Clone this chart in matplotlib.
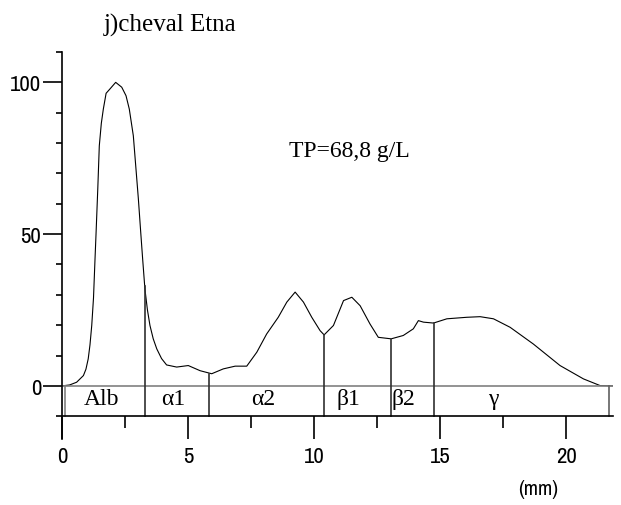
import matplotlib
matplotlib.use("Agg")
import matplotlib.pyplot as plt
import numpy as np

# curve (mm, relative intensity)
x_mm = [0.0, 0.3, 0.58, 0.85, 0.95, 1.04, 1.11, 1.18, 1.25, 1.31, 1.35, 1.42, 1.48, 1.56, 1.64,
        1.75, 1.90, 2.13, 2.37, 2.54, 2.67, 2.83, 2.93, 3.03, 3.12, 3.20, 3.29, 3.39, 3.49, 3.62,
        3.76, 3.95, 4.15, 4.55, 5.01, 5.48, 5.94, 6.40, 6.87,
        7.33, 7.73, 8.12, 8.58, 8.92, 9.25, 9.58, 9.91, 10.24, 10.40, 10.77, 11.17, 11.50,
        11.83, 12.22, 12.55, 13.06, 13.54, 13.94, 14.14, 14.34, 14.74, 15.27, 16.06, 16.59,
        17.12, 17.78, 18.70, 19.76, 20.69, 21.35, 21.85]
y_val = [0.0, 0.3, 1.2, 3.4, 5.5, 8.9, 13.5, 19.9, 29.0, 41.8, 50.0, 65.0, 79.1, 86.5, 91.2,
         96.4, 97.8, 100.0, 98.4, 95.6, 91.2, 82.4, 72.0, 61.6, 51.0, 41.8, 31.9, 25.0, 19.9, 15.5,
         12.2, 9.0, 6.9, 6.2, 6.7, 5.0, 4.0, 5.6, 6.5,
         6.5, 11.1, 17.1, 22.6, 27.6, 30.9, 27.6, 22.6, 18.2, 16.8, 19.9, 28.1, 29.2,
         26.4, 20.4, 16.0, 15.5, 16.6, 18.8, 21.5, 21.0, 20.7, 22.1, 22.6, 22.8,
         22.1, 19.3, 13.8, 6.7, 2.3, 0.1, 0.0]

# fraction boundaries and labels
bounds = [3.28, 5.82, 10.40, 13.06, 14.74]
bound_heights = [33.0, 4.0, 16.8, 15.5, 20.7]
frac_labels = ["Alb", "α1", "α2", "β1", "β2", "γ"]
frac_label_x = [1.57, 4.42, 7.99, 11.36, 13.54, 17.09]
x_ticks = [0, 5, 10, 15, 20]
y_ticks = [0, 50, 100]

fig = plt.figure(figsize=(6.21, 5.06), dpi=100)
ax = fig.add_axes([62/621, (506-440)/506, 550.7/621, (440-53)/506])
ax.set_xlim(0, 21.85)
ax.set_ylim(-17.5, 110)

serif = ["Liberation Serif", "DejaVu Serif"]
sans = ["Archivo Narrow", "PT Sans Narrow", "Roboto Condensed", "DejaVu Sans"]

ax.plot(x_mm, y_val, color="black", lw=0.8)

# strip
ax.plot([0, 21.85], [0, 0], color="#808080", lw=1.2)
ax.plot([0.1, 0.1], [-10, 0], color="#808080", lw=1.2)
for b, h in zip(bounds, bound_heights):
    ax.plot([b, b], [-10, h], color="#303030", lw=1.2)
ax.plot([21.69, 21.69], [-10, 0], color="#606060", lw=1.2)
for lx, lab in zip(frac_label_x, frac_labels):
    ax.text(lx, -4.3, lab, ha="center", va="center", fontsize=17, family=serif)

ax.spines["top"].set_visible(False)
ax.spines["right"].set_visible(False)
ax.spines["bottom"].set_position(("data", -10))
ax.spines["left"].set_linewidth(1.2)
ax.spines["bottom"].set_linewidth(1.2)

ax.set_xticks(x_ticks)
ax.set_xticks(np.arange(2.5, 21, 5), minor=True)
ax.set_yticks(y_ticks)
ax.set_yticks(np.arange(-10, 111, 10), minor=True)
ax.tick_params(axis="x", which="major", length=16.5, width=1.2, pad=5)
ax.tick_params(axis="x", which="minor", length=8.5, width=1.2)
ax.tick_params(axis="y", which="major", length=13.5, width=1.2, pad=1.5)
ax.tick_params(axis="y", which="minor", length=4.3, width=1.2)
for lab in ax.get_xticklabels() + ax.get_yticklabels():
    lab.set_family(sans)
    lab.set_fontsize(16.5)

fig.text(170/621, 1-25/506, "j)cheval Etna", ha="center", va="center", fontsize=18, family=serif)
ax.text(9.0, 77.4, "TP=68,8 g/L", ha="left", va="center", fontsize=17, family=serif)
fig.text(538/621, 1-490/506, "(mm)", ha="center", va="center", fontsize=15, family=sans)

fig.savefig("out.png", dpi=100)
